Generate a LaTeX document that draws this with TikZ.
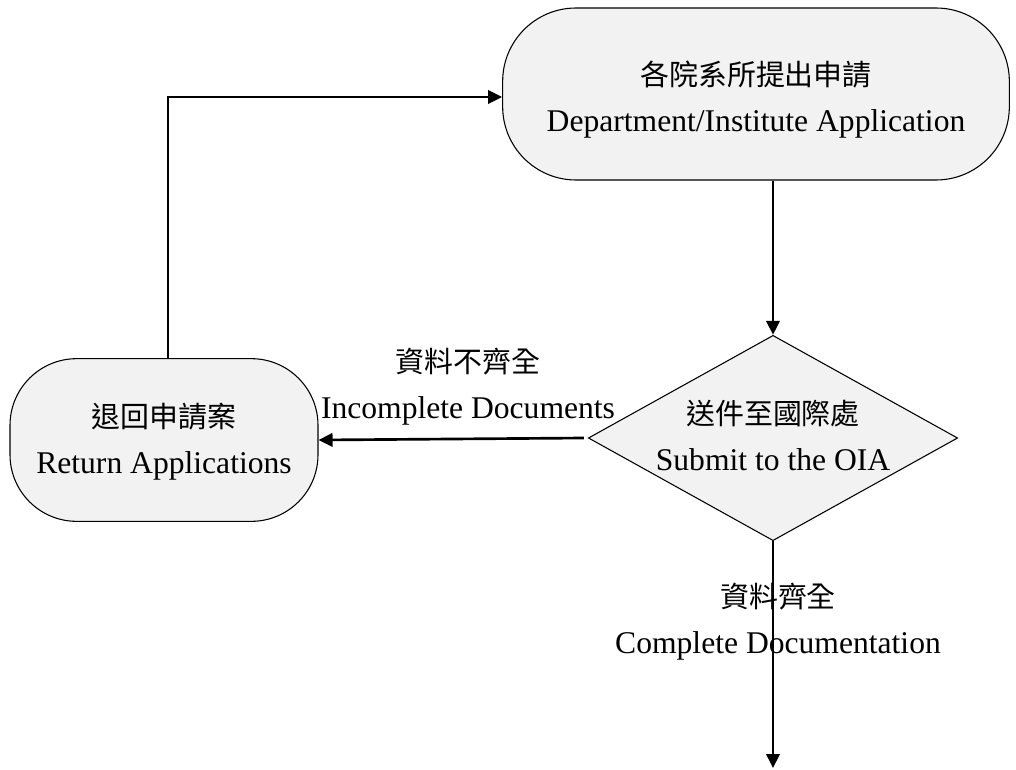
\documentclass[tikz,border=0pt]{standalone}
\usepackage{fontspec}
\setmainfont{Liberation Serif}
\newfontfamily\cjkfam{Noto Sans CJK TC}
\newcommand{\cj}[1]{{\cjkfam\fontsize{21.7}{34}\selectfont #1}}
\usetikzlibrary{shapes.geometric,arrows.meta}
\definecolor{boxfill}{HTML}{F2F2F2}
\tikzset{
  txt/.style={font=\fontsize{23.7}{34.5}\selectfont, align=center},
  terminal/.style={draw=black, line width=0.8pt, fill=boxfill, rectangle, inner sep=0pt},
  decision/.style={draw=black, line width=0.8pt, fill=boxfill, diamond, inner sep=0pt},
  flow/.style={line width=2pt, -{Triangle[length=10.5pt,width=10pt]}},
  lbl/.style={txt}
}
\begin{document}
\begin{tikzpicture}[x=0.75pt,y=-0.75pt]
\useasboundingbox (0,0) rectangle (1016,770);
\node[terminal, rounded corners=55pt, minimum width=380pt, minimum height=129pt,
  label={[txt, yshift=-4.5pt]center:\cj{各院系所提出申請}\\Department/Institute Application}] (apply) at (756,94) {};
\node[terminal, rounded corners=50pt, minimum width=231pt, minimum height=122pt,
  label={[txt, yshift=-1.5pt]center:\cj{退回申請案}\\Return Applications}] (ret) at (164,440) {};
\node[decision, minimum width=277pt, minimum height=154pt,
  label={[txt, yshift=2pt]center:\cj{送件至國際處}\\Submit to the OIA}] (oia) at (773,438) {};
\coordinate (end) at (773,768);
\coordinate (corner) at (168,97);
\draw[flow] (apply.south -| oia.north) -- (oia.north);
\draw[flow] (oia.west) ++(-4,0) -- (ret.east);
\draw[flow] (ret.north -| corner) -- (corner) -- (corner -| apply.west);
\draw[flow] (oia.south) -- (end);
\node[lbl] (inc) at (468,387) {\cj{資料不齊全}\\Incomplete Documents};
\node[lbl] (comp) at (778,622) {\cj{資料齊全}\\Complete Documentation};
\end{tikzpicture}
\end{document}
